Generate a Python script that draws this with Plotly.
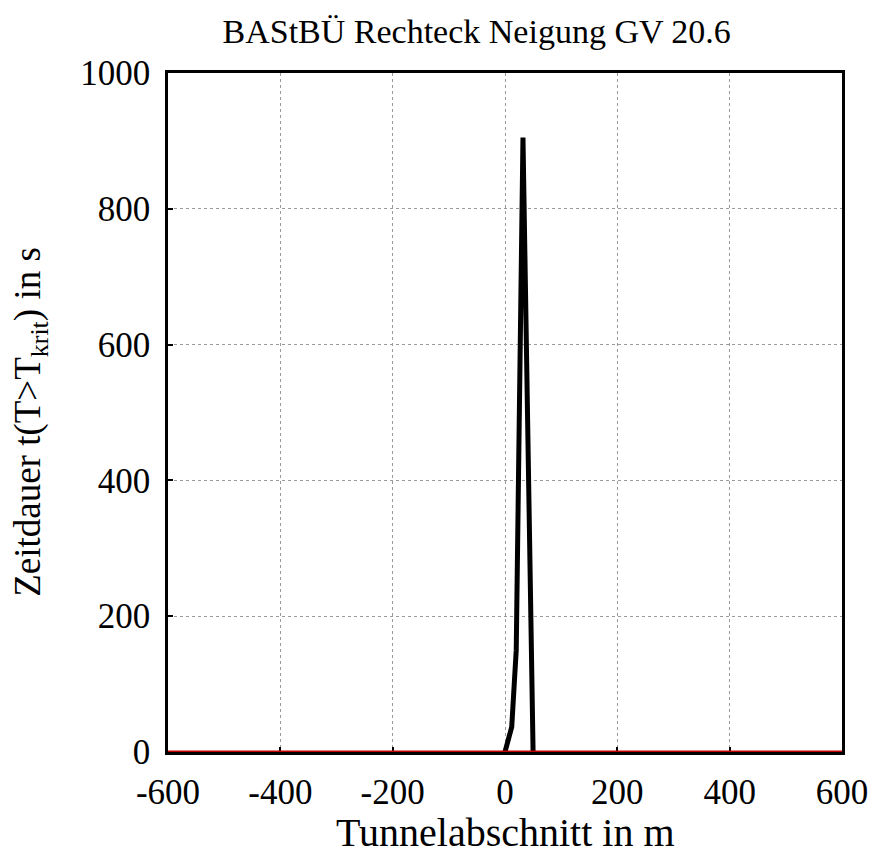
import plotly.graph_objects as go

# Tunnelabschnitt in m / Zeitdauer in s
abschnitt = [0, 12, 20, 32, 50]
zeitdauer = [0, 37, 150, 905, 0]

grenze_x = [-600, 600]
grenze_y = [0, 0]

x_ticks = [-600, -400, -200, 0, 200, 400, 600]
x_labels = ['-600', '-400', '-200', '0', '200', '400', '600']
y_ticks = [0, 200, 400, 600, 800, 1000]
y_labels = ['0', '200', '400', '600', '800', '1000']

FONT = 'Liberation Serif'

# the page body has an 8px margin, so the figure is 8px smaller than the window
W, H = 872, 849

fig = go.Figure()

fig.add_trace(go.Scatter(x=abschnitt, y=zeitdauer,
                         mode='lines',
                         line=dict(color='black', width=5),
                         showlegend=False))

fig.add_trace(go.Scatter(x=grenze_x, y=grenze_y,
                         mode='lines',
                         line=dict(color='#c00000', width=3),
                         showlegend=False))

axis_style = dict(showline=True, linecolor='black', linewidth=2.5, mirror=True,
                  ticks='inside', ticklen=5, tickwidth=2, tickcolor='black',
                  showgrid=True, gridcolor='#9a9a9a', gridwidth=1, griddash='dot',
                  zeroline=False, layer='below traces',
                  tickfont=dict(family=FONT, size=35, color='black'))

fig.update_xaxes(range=[-600, 600], tickvals=x_ticks, ticktext=x_labels,
                 ticklabelstandoff=7, **axis_style)
fig.update_yaxes(range=[0, 1000], tickvals=y_ticks, ticktext=y_labels,
                 ticklabelstandoff=8, **axis_style)

fig.update_layout(
    width=W, height=H,
    margin=dict(l=160, r=31, t=65, b=105),
    plot_bgcolor='white', paper_bgcolor='white',
    title=dict(text='BAStBÜ Rechteck Neigung GV 20.6',
               font=dict(family=FONT, size=34, color='black'),
               x=0.458, xanchor='center', xref='paper',
               y=1 - 23 / H, yanchor='middle', yref='container'),
    annotations=[
        dict(text='Tunnelabschnitt in m', xref='paper', yref='paper',
             x=0.5, y=-0.118, xanchor='center', yanchor='middle',
             showarrow=False, font=dict(family=FONT, size=40, color='black')),
        dict(text='Zeitdauer t(T>T<sub>krit</sub>) in s', xref='paper', yref='paper',
             x=-0.205, y=0.486, xanchor='center', yanchor='middle', textangle=-90,
             showarrow=False, font=dict(family=FONT, size=37, color='black')),
    ],
)

fig.write_html("out.html")
